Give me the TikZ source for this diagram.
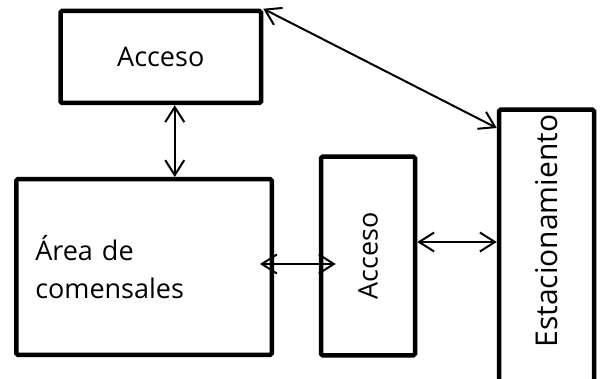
\documentclass[tikz,border=0pt]{standalone}
\usepackage{fontspec}
\setmainfont{Open Sans}
\usetikzlibrary{arrows.meta,calc}
\tikzset{
  boxtext/.style={inner sep=0pt, align=center, font=\fontsize{27}{38}\selectfont},
  box/.style={boxtext, rectangle, draw, line width=4.5pt, rounded corners=1.5pt},
  biarrow/.style={{Straight Barb[length=15pt,width=19pt]}-{Straight Barb[length=15pt,width=19pt]}, line width=2pt},
}
\begin{document}
\begin{tikzpicture}[x=1pt, y=-1pt]
  \useasboundingbox (0,0) rectangle (602,379);

  % Access on top
  \node[box, minimum width=200.5pt, minimum height=92pt] (accesotop) at (160.75,57) {Acceso};

  % Dining area
  \node[box, minimum height=175.5pt, text width=217.5pt, inner xsep=19pt, align=left] (comensales) at (144,267) {Área de\\comensales};

  % Access in the middle
  \node[box, minimum width=94pt, minimum height=198.5pt] (accesomid) at (368,256) {};
  \node[boxtext, rotate=90] (accesomidtext) at (accesomid) {Acceso};

  % Parking
  \node[box, minimum width=95pt, minimum height=290pt, anchor=north] (estac) at (546.5,107.5) {};
  \node[boxtext, rotate=90, font=\fontsize{30}{36}\selectfont] (estactext) at (546.5,231) {Estacionamiento};

  % Connections
  \draw[biarrow] (accesotop.north east) -- ($(estac.north west)+(0,20.5)$);
  \draw[biarrow] ([xshift=14pt]accesotop.south) -- ([xshift=14pt]accesotop.south |- comensales.north);
  \draw[biarrow] ($(comensales.east)+(-14,-3)$) -- ($(comensales.east -| accesomid.west)+(17,-3)$);
  \draw[biarrow] ($(accesomid.east)+(0,-14)$) -- ($(accesomid.east -| estac.west)+(0,-14)$);

\end{tikzpicture}
\end{document}
